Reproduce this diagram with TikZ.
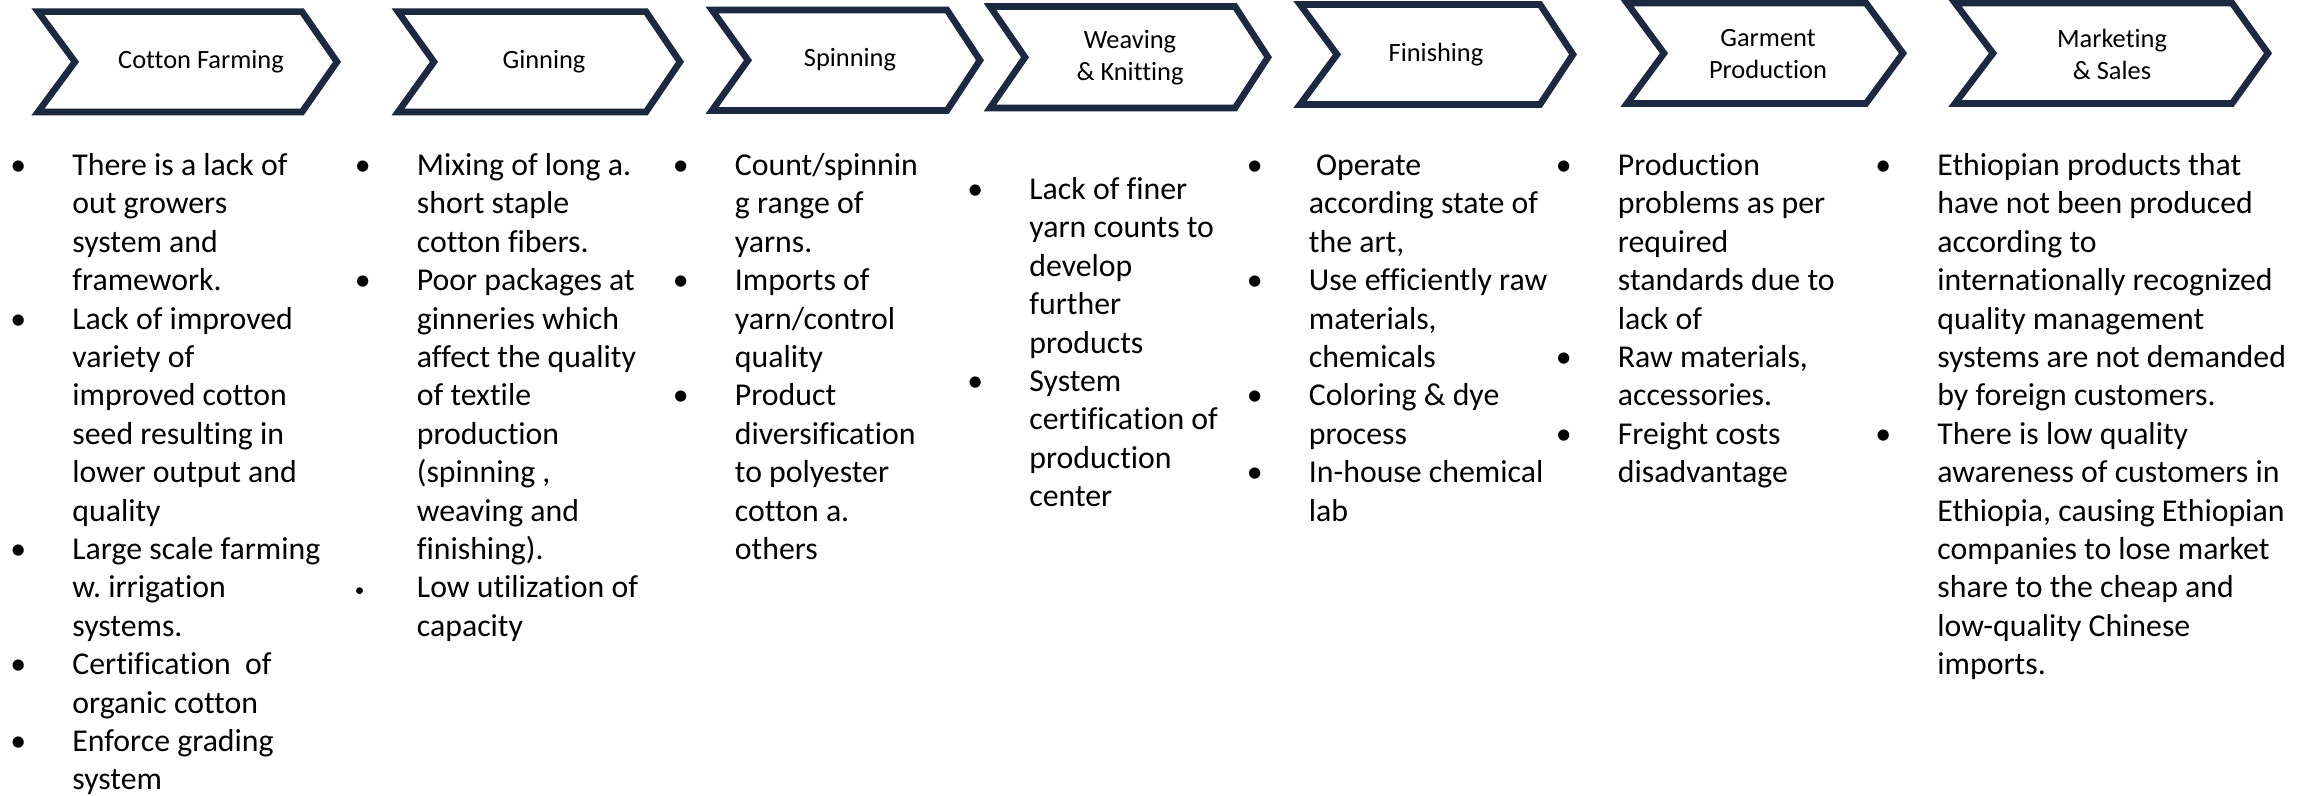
\documentclass[tikz,border=0pt]{standalone}
\usepackage{fontspec}
\setmainfont{Carlito}[Ligatures={NoCommon,NoRequired,NoContextual}]
\definecolor{navy}{HTML}{1B2A40}
\tikzset{
  chev/.style={draw=navy, line width=3.3pt, line join=miter, fill=white},
  hdr/.style={font=\fontsize{13.2}{16}\selectfont, align=center, inner sep=0pt},
  col/.style={anchor=base west, inner sep=0pt, font=\fontsize{15.9}{19.2}\selectfont},
}
\frenchspacing
\newcommand\bu{\llap{\makebox[31pt][l]{•}}}
\newcommand\sbu{\llap{\makebox[31pt][l]{\raisebox{0.5pt}{\scalebox{0.6}{•}}}}}
\newcommand\chevron[6]{\draw[chev] (#1,#5) -- (#3,#5) -- (#4,{(#5+#6)/2}) -- (#3,#6) -- (#1,#6) -- (#2,{(#5+#6)/2}) -- cycle;}
\begin{document}
\begin{tikzpicture}[x=0.5pt,y=-0.5pt]
\useasboundingbox (0,0) rectangle (2308,796);
% chevrons
\chevron{38}{75}{302}{337}{11.7}{112}
\chevron{398}{434}{646}{680}{11.7}{112}
\chevron{712}{748}{947}{980}{10}{110.5}
\chevron{990}{1025}{1235}{1268}{6.5}{108}
\chevron{1300}{1337}{1540}{1573}{4.5}{104.5}
\chevron{1627}{1664}{1866}{1903}{3}{103.5}
\chevron{1955}{1993}{2232}{2268}{3}{103.5}
% headers
\node[hdr] (h1) at (201,62) {Cotton Farming};
\node[hdr] (h2) at (544,62) {Ginning};
\node[hdr] (h3) at (850,60) {Spinning};
\node[hdr] (h4) at (1130,58) {Weaving\\\& Knitting};
\node[hdr] (h5) at (1436,55) {Finishing};
\node[hdr] (h6) at (1768,54) {Garment\\Production};
\node[hdr] (h7) at (2112,54) {Marketing\\\& Sales};
% columns
\node[col] (c1) at (72,175.5) {\begin{tabular}[t]{@{}l@{}}
\bu There is a lack of\\
out growers\\
system and\\
framework.\\
\bu Lack of improved\\
variety of\\
improved cotton\\
seed resulting in\\
lower output and\\
quality\\
\bu Large scale farming\\
w. irrigation\\
systems.\\
\bu Certification\ \ of\\
organic cotton\\
\bu Enforce grading\\
system
\end{tabular}};
\node[col] (c2) at (416.5,175.5) {\begin{tabular}[t]{@{}l@{}}
\bu Mixing of long a.\\
short staple\\
cotton fibers.\\
\bu Poor packages at\\
ginneries which\\
affect the quality\\
of textile\\
production\\
(spinning ,\\
weaving and\\
finishing).\\
\sbu Low utilization of\\
capacity
\end{tabular}};
\node[col] (c3) at (734.5,175.5) {\begin{tabular}[t]{@{}l@{}}
\bu Count/spinnin\\
g range of\\
yarns.\\
\bu Imports of\\
yarn/control\\
quality\\
\bu Product\\
diversification\\
to polyester\\
cotton a.\\
others
\end{tabular}};
\node[col] (c4) at (1029,199.5) {\begin{tabular}[t]{@{}l@{}}
\bu Lack of finer\\
yarn counts to\\
develop\\
further\\
products\\
\bu System\\
certification of\\
production\\
center
\end{tabular}};
\node[col] (c5) at (1308.5,175.5) {\begin{tabular}[t]{@{}l@{}}
\bu \ Operate\\
according state of\\
the art,\\
\bu Use efficiently raw\\
materials,\\
chemicals\\
\bu Coloring \& dye\\
process\\
\bu In-house chemical\\
lab
\end{tabular}};
\node[col] (c6) at (1617.5,175.5) {\begin{tabular}[t]{@{}l@{}}
\bu Production\\
problems as per\\
required\\
standards due to\\
lack of\\
\bu Raw materials,\\
accessories.\\
\bu Freight costs\\
disadvantage
\end{tabular}};
\node[col] (c7) at (1937,175.5) {\begin{tabular}[t]{@{}l@{}}
\bu Ethiopian products that\\
have not been produced\\
according to\\
internationally recognized\\
quality management\\
systems are not demanded\\
by foreign customers.\\
\bu There is low quality\\
awareness of customers in\\
Ethiopia, causing Ethiopian\\
companies to lose market\\
share to the cheap and\\
low-quality Chinese\\
imports.
\end{tabular}};
\end{tikzpicture}
\end{document}
